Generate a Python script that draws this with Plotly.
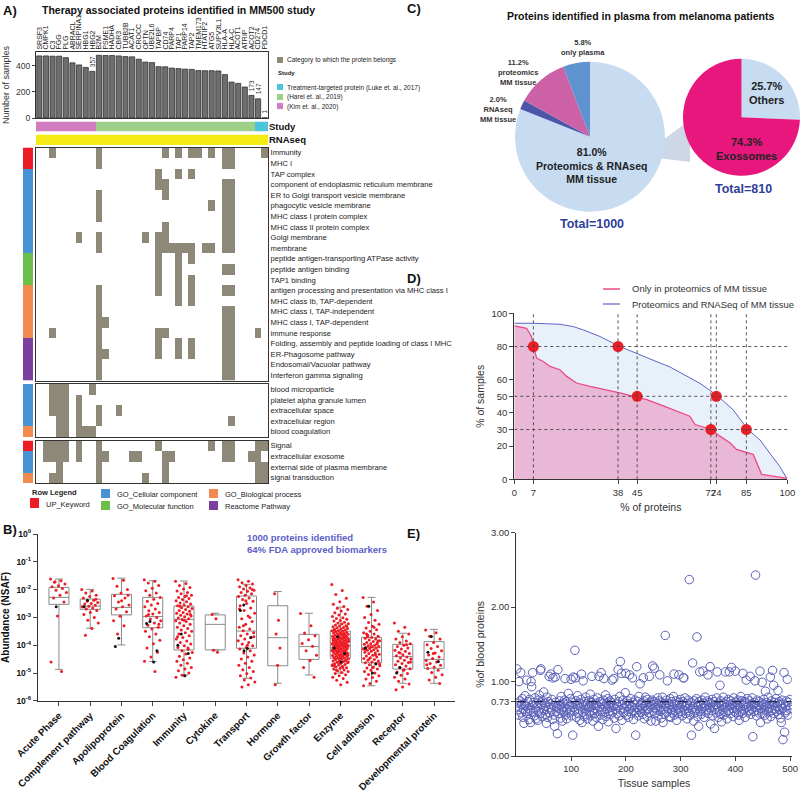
import plotly.graph_objects as go

W, H = 800, 792
FONT = "Arial, Liberation Sans, sans-serif"


def dx(a, b):
    return [a / W, b / W]


def dy(top, bottom):
    return [1 - bottom / H, 1 - top / H]


def px(x):
    return x / W


def py(y):
    return 1 - y / H


# ---------------- Panel A data ----------------
GENES = ["SRSF3", "CMPK1", "C3", "FGG", "PLG", "ABRACL", "SERPINA1", "HBG1", "HBG2",
         "B2M", "PSME1", "HADHA", "CBR3", "TUBB2B", "ACAT1", "CROCC", "OPTN", "UBE2L6",
         "TAPBP", "CD74", "PARP4", "TAP1", "PARP14", "TAP2", "TMEM173", "HTATIP2", "ATG5",
         "SUPV3L1", "HLA-A", "HLA-C", "ACOT1", "ATRIP", "ACOT2", "CD274", "PDCD1"]
SAMPLES = [475, 475, 473, 473, 462, 422, 406, 387, 357,
           480, 478, 478, 475, 470, 468, 450, 428, 424,
           393, 392, 382, 378, 374, 372, 363, 362, 362,
           360, 332, 275, 265, 237, 173, 147, 1]
LABELLED_BARS = ["HBG2", "ACOT2", "CD274", "PDCD1"]
# 0 = Kim 2020, 1 = Harel 2019, 2 = Luke 2017
GENE_STUDY = [0, 0, 0, 0, 0, 0, 0, 0, 0,
              1, 1, 1, 1, 1, 1, 1, 1, 1, 1, 1, 1, 1, 1, 1, 1, 1, 1, 1, 1, 1, 1, 1, 1,
              2, 2]
STUDY_COLORS = ["#d27cc1", "#9dd088", "#4cc4dc"]

BLOCK1_ROWS = ["Immunity", "MHC I", "TAP complex",
               "component of endoplasmic reticulum membrane",
               "ER to Golgi transport vesicle membrane", "phagocytic vesicle membrane",
               "MHC class I protein complex", "MHC class II protein complex",
               "Golgi membrane", "membrane", "peptide antigen-transporting ATPase activity",
               "peptide antigen binding", "TAP1 binding",
               "antigen processing and presentation via MHC class I",
               "MHC class Ib, TAP-dependent", "MHC class I, TAP-independent",
               "MHC class I, TAP-dependent", "immune response",
               "Folding, assembly and peptide loading of class I MHC",
               "ER-Phagosome pathway", "Endosomal/Vacuolar pathway",
               "Interferon gamma signaling"]
BLOCK1_HITS = [[2, 9, 19, 21, 23, 24, 26, 28, 29, 34],
               [9, 28, 29],
               [18, 21, 23],
               [18, 19, 28, 29],
               [9, 19, 28, 29],
               [9, 26, 28, 29],
               [9, 28, 29],
               [19, 28, 29],
               [6, 9, 16, 18, 19, 28, 29],
               [9, 18, 19, 20, 21, 22, 23, 25, 26, 28, 29],
               [18, 21, 23],
               [18, 21, 28, 29],
               [18, 21, 23],
               [9, 18, 21, 23, 28, 29],
               [9, 21, 23],
               [9, 28, 29],
               [9, 10, 28, 29],
               [2, 9, 18, 19, 28, 29, 33],
               [9, 18, 21, 23, 28, 29],
               [9, 10, 18, 21, 23, 28, 29],
               [9, 28, 29],
               [9, 28, 29]]
BLOCK1_CATS = [0, 0, 1, 1, 1, 1, 1, 1, 1, 1, 2, 2, 2, 3, 3, 3, 3, 3, 4, 4, 4, 4]

BLOCK2_ROWS = ["blood microparticle", "platelet alpha granule lumen", "extracellular space",
               "extracellular region", "blood coagulation"]
BLOCK2_HITS = [[2, 3, 4, 8],
               [2, 3, 4, 6],
               [2, 3, 4, 6, 9, 12],
               [3, 4, 6, 9, 29],
               [3, 4, 6, 7, 8]]
BLOCK2_CATS = [1, 1, 1, 1, 3]

BLOCK3_ROWS = ["Signal", "extracellular exosome", "external side of plasma membrane",
               "signal transduction"]
BLOCK3_HITS = [[1, 2, 3, 4, 6, 9, 18, 26, 28, 29, 33, 34],
               [1, 2, 3, 4, 6, 9, 10, 14, 15, 19, 20, 28, 29, 32, 33],
               [3, 9, 19, 33, 34],
               [2, 3, 9, 16, 19, 33, 34]]
BLOCK3_CATS = [0, 1, 1, 3]

ROW_LEGEND = ["UP_Keyword", "GO_Cellular component", "GO_Molecular function",
              "GO_Biological process", "Reactome Pathway"]
ROW_COLORS = ["#ee1c25", "#4793d3", "#6cbf4a", "#f38b50", "#7b3f9d"]
CELL_GRAY = "#8d8878"

# ---------------- Panel B data (log10 NSAF) ----------------
B_CATEGORIES = ["Acute Phase", "Complement pathway", "Apolipoprotein", "Blood Coagulation",
                "Immunity", "Cytokine", "Transport", "Hormone", "Growth factor", "Enzyme",
                "Cell adhesion", "Receptor", "Developmental protein"]
B_UPPER = [-1.62, -1.99, -1.59, -1.68, -1.69, -2.85, -1.81, -2.07, -2.85, -2.63, -2.28, -3.57, -3.43]
B_Q3 = [-1.92, -2.34, -2.17, -2.28, -2.59, -2.91, -2.23, -2.58, -3.61, -3.49, -3.72, -3.97, -3.87]
B_MEDIAN = [-2.28, -2.59, -2.64, -2.97, -3.07, -3.25, -3.49, -3.73, -4.05, -3.99, -4.09, -4.41, -4.51]
B_Q1 = [-2.53, -2.71, -2.91, -3.37, -4.17, -4.17, -4.11, -4.74, -4.51, -4.47, -4.63, -4.86, -4.83]
B_LOWER = [-4.87, -3.39, -3.99, -4.59, -5.07, -4.17, -5.19, -5.37, -5.07, -5.00, -5.46, -5.37, -5.37]

ACUTE = [-1.62, -1.68, -1.74, -1.8, -1.86, -1.9, -1.96, -2.02, -2.1, -2.2, -2.3, -2.45, -2.95, -4.6, -4.95, -1.72]
COMPLEMENT = [-2.0, -2.05, -2.12, -2.2, -2.25, -2.3, -2.38, -2.42, -2.46, -2.5, -2.52, -2.56, -2.6,
              -2.62, -2.66, -2.7, -2.75, -2.82, -2.9, -3.0, -3.1, -3.2, -3.4, -3.64, -2.35]
APOLIPO = [-1.6, -1.66, -1.88, -2.0, -2.12, -2.22, -2.3, -2.45, -2.55, -2.62, -2.7, -2.8, -2.96,
           -3.12, -3.3, -3.6, -2.2, -2.4]
BLOODCOAG = [-1.65, -1.7, -1.76, -1.85, -1.95, -2.04, -2.12, -2.2, -2.28, -2.35, -2.42, -2.5, -2.55,
             -2.62, -2.7, -2.76, -2.82, -2.88, -2.95, -3.0, -3.06, -3.12, -3.2, -3.28, -3.35, -3.42,
             -3.5, -3.6, -3.7, -3.82, -3.95, -4.1, -4.25, -4.42, -4.58, -4.95, -2.9, -3.25]
IMMUNITY = [-1.7, -1.78, -1.85, -1.92, -1.98, -2.05, -2.1, -2.15, -2.2, -2.25, -2.28, -2.32, -2.36,
            -2.4, -2.44, -2.48, -2.52, -2.55, -2.58, -2.62, -2.65, -2.68, -2.72, -2.75, -2.78, -2.82,
            -2.85, -2.88, -2.92, -2.95, -2.98, -3.02, -3.05, -3.08, -3.12, -3.15, -3.2, -3.25, -3.3,
            -3.35, -3.4, -3.45, -3.5, -3.55, -3.6, -3.66, -3.72, -3.78, -3.85, -3.9, -3.96, -4.02,
            -4.08, -4.15, -4.2, -4.26, -4.32, -4.4, -4.46, -4.52, -4.58, -4.65, -4.72, -4.8, -4.86,
            -4.92, -5.0, -5.08, -5.15, -2.22, -2.6, -2.9, -3.1, -3.7, -4.1]
CYTOKINE = [-2.9, -3.05, -4.18, -4.25]
TRANSPORT = [-1.65, -1.7, -1.75, -1.8, -1.85, -1.9, -1.94, -1.98, -2.02, -2.06, -2.1, -2.15, -2.2,
             -2.25, -2.3, -2.36, -2.42, -2.5, -2.58, -2.66, -2.75, -2.85, -2.95, -3.05, -3.15, -3.25,
             -3.35, -3.42, -3.48, -3.55, -3.6, -3.66, -3.72, -3.78, -3.84, -3.9, -3.96, -4.02, -4.08,
             -4.14, -4.2, -4.28, -4.35, -4.42, -4.5, -4.58, -4.65, -4.72, -4.8, -4.88, -4.95, -5.02,
             -5.1, -5.18, -5.25, -5.32, -5.42, -5.5, -2.0, -2.4, -2.7, -3.0, -3.3, -3.7, -4.0]
HORMONE = [-2.15, -3.1, -3.6, -4.1, -4.72, -5.42]
GROWTH = [-2.86, -3.3, -3.56, -3.66, -3.8, -3.94, -4.04, -4.2, -4.36, -4.55, -4.8, -5.15]
ENZYME = [-1.82, -2.03, -2.18, -2.31, -2.44, -2.53, -2.61, -2.67, -2.72, -2.77, -2.83, -2.88, -2.91,
          -2.97, -3.01, -3.04, -3.07, -3.11, -3.13, -3.17, -3.2, -3.23, -3.24, -3.27, -3.3, -3.31,
          -3.34, -3.36, -3.37, -3.4, -3.42, -3.43, -3.45, -3.47, -3.48, -3.5, -3.52, -3.53, -3.55,
          -3.56, -3.58, -3.59, -3.61, -3.62, -3.63, -3.65, -3.66, -3.68, -3.69, -3.7, -3.71, -3.73,
          -3.74, -3.75, -3.77, -3.78, -3.79, -3.8, -3.82, -3.83, -3.84, -3.85, -3.87, -3.88, -3.89,
          -3.9, -3.91, -3.93, -3.94, -3.95, -3.96, -3.97, -3.98, -4.0, -4.01, -4.02, -4.03, -4.04,
          -4.05, -4.07, -4.08, -4.09, -4.1, -4.11, -4.13, -4.14, -4.15, -4.16, -4.18, -4.19, -4.2,
          -4.21, -4.23, -4.24, -4.25, -4.27, -4.28, -4.3, -4.31, -4.32, -4.34, -4.35, -4.37, -4.38,
          -4.4, -4.41, -4.43, -4.44, -4.46, -4.47, -4.49, -4.5, -4.52, -4.54, -4.55, -4.57, -4.59,
          -4.61, -4.63, -4.65, -4.67, -4.69, -4.71, -4.73, -4.76, -4.78, -4.81, -4.83, -4.86, -4.89,
          -4.92, -4.95, -4.98, -5.02, -5.06, -5.1, -5.15, -5.2, -5.26, -5.33, -5.42, -3.46, -3.64,
          -3.72, -3.86, -3.92, -3.99, -4.06, -4.12, -4.17, -4.22, -4.29, -4.36, -4.42, -4.48, -4.56,
          -4.62, -4.7, -4.8, -4.9, -3.33, -3.57, -3.81, -4.0, -4.26, -4.6, -3.97, -4.12, -4.33,
          -4.45, -3.76, -3.6, -3.89, -4.05, -4.39, -4.75]
CELLADH = [-2.28, -2.45, -2.6, -2.75, -2.9, -3.0, -3.1, -3.18, -3.25, -3.32, -3.38, -3.44, -3.5,
           -3.55, -3.6, -3.64, -3.68, -3.72, -3.75, -3.78, -3.81, -3.84, -3.87, -3.9, -3.92, -3.95,
           -3.97, -4.0, -4.02, -4.04, -4.06, -4.08, -4.1, -4.12, -4.14, -4.16, -4.18, -4.2, -4.22,
           -4.25, -4.28, -4.3, -4.33, -4.36, -4.39, -4.42, -4.45, -4.48, -4.51, -4.54, -4.57, -4.6,
           -4.63, -4.66, -4.7, -4.74, -4.78, -4.82, -4.86, -4.9, -4.95, -5.0, -5.05, -5.1, -5.16,
           -5.22, -5.3, -5.38, -5.46, -3.35, -3.7, -3.85, -4.05, -4.15, -4.35, -4.5, -4.68, -4.8,
           -3.6, -3.95]
RECEPTOR = [-3.2, -3.35, -3.5, -3.6, -3.7, -3.78, -3.85, -3.9, -3.95, -4.0, -4.05, -4.1, -4.14,
            -4.18, -4.22, -4.26, -4.3, -4.34, -4.38, -4.42, -4.46, -4.5, -4.54, -4.58, -4.62, -4.66,
            -4.7, -4.75, -4.8, -4.85, -4.9, -4.96, -5.02, -5.08, -5.15, -5.22, -5.3, -5.4, -5.5,
            -5.6, -3.98, -4.28, -4.6, -4.88]
DEVEL = [-3.45, -3.55, -3.68, -3.78, -3.9, -3.98, -4.05, -4.12, -4.2, -4.28, -4.35, -4.42, -4.48,
         -4.55, -4.6, -4.66, -4.72, -4.78, -4.84, -4.9, -4.98, -5.06, -5.15, -5.25, -5.38, -4.3, -4.7]
B_RED = [ACUTE, COMPLEMENT, APOLIPO, BLOODCOAG, IMMUNITY, CYTOKINE, TRANSPORT, HORMONE,
         GROWTH, ENZYME, CELLADH, RECEPTOR, DEVEL]
B_BLACK = [[-2.62], [-2.38, -2.62], [-3.75, -4.05], [-3.15, -3.22, -4.2, -4.6],
           [-3.6, -4.0, -4.3, -5.1], [], [-2.55, -2.75, -3.72, -4.12, -4.2], [], [],
           [-3.7, -4.1, -4.3, -4.6], [-2.6, -4.1, -4.68, -5.0], [-4.8, -5.0], [-3.69, -4.25, -4.59]]

# ---------------- Panel C data ----------------
PIE1_LABELS = ["Proteomics & RNAseq MM tissue", "RNAseq MM tissue", "proteomics MM tissue", "only plasma"]
PIE1_VALUES = [81.0, 2.0, 11.2, 5.8]
PIE1_COLORS = ["#c7dcf1", "#4b56a8", "#cd61a7", "#5f93d0"]
PIE2_LABELS = ["Others", "Exossomes"]
PIE2_VALUES = [25.7, 74.3]
PIE2_COLORS = ["#c7dcf1", "#e8177d"]

# ---------------- Panel D data ----------------
D_PINK_X = [0, 4.5, 6.3, 7, 8.2, 10.6, 13.1, 16.7, 19.2, 22.8, 27.7, 33.8, 38.7, 43.6, 48.5, 53.4,
            59.5, 64.3, 66.2, 68, 72.3, 75.3, 79, 81.4, 85.1, 87.5, 90.6, 92.4, 99.8, 100]
D_PINK_Y = [92.4, 91, 86, 80, 73, 71, 68, 66, 62, 58, 56, 54, 52, 50, 48, 45,
            41, 38, 33, 32, 30, 26, 22, 18, 16, 15, 3, 2.6, 0.6, 0]
D_BLUE_X = [0, 7, 16.7, 21.6, 25.3, 31.4, 38.7, 44.8, 50.9, 57, 63.1, 68, 74.1, 80.2, 85.5, 90,
            93.6, 97.3, 100]
D_BLUE_Y = [94, 94, 93.4, 92, 90, 86, 80, 75.7, 71.7, 67.7, 62.2, 57.8, 50.8, 41.8, 30.1, 23.7,
            15.7, 7.6, 0]
D_SERIES = ["Only in proteomics of MM tissue", "Proteomics and RNASeq of MM tissue"]
D_DOT_X = [7, 38, 45, 74, 72, 85]
D_DOT_Y = [80, 80, 50, 50, 30, 30]
D_XTICKS = [0, 7, 38, 45, 72, 74, 85, 100]
D_YTICKS = [0, 20, 30, 40, 50, 60, 80, 100]

# ---------------- Panel E data ----------------
E_VALUES = [
    1.17, 0.62, 0.71, 0.55, 1.00, 0.66, 0.74, 1.12, 0.58, 0.69, 0.77, 0.52, 0.63, 0.44, 0.70, 0.81, 0.60, 0.67, 1.02, 0.57, 0.73, 0.64, 0.49, 0.76, 0.61,
    0.45, 1.00, 0.93, 0.68, 1.12, 0.59, 0.72, 0.54, 0.78, 0.63, 0.50, 0.70, 0.66, 0.48, 0.75, 0.60, 0.82, 0.57, 1.15, 1.17, 0.69, 0.53, 0.74, 0.64, 0.86,
    0.61, 0.71, 0.56, 0.67, 0.44, 0.79, 0.52, 0.73, 0.65, 1.07, 0.58, 0.70, 1.10, 0.62, 0.76, 0.49, 1.05, 0.68, 0.55, 0.40, 1.06, 0.72, 0.60, 0.66, 0.30,
    1.16, 0.64, 0.57, 0.74, 0.69, 0.51, 0.80, 0.62, 0.47, 0.71, 0.59, 0.66, 0.75, 1.04, 0.55, 0.73, 0.50, 0.63, 0.70, 0.84, 0.58, 0.67, 0.61, 0.77, 1.03,
    0.54, 0.72, 0.28, 1.06, 0.65, 0.60, 1.42, 1.05, 0.74, 0.52, 0.69, 0.81, 0.57, 0.63, 0.71, 0.48, 0.66, 0.76, 1.10, 0.45, 0.59, 1.01, 0.68, 0.53, 0.73,
    0.62, 0.79, 0.56, 0.70, 0.50, 0.65, 0.74, 0.59, 0.67, 0.83, 0.54, 0.72, 1.07, 0.61, 0.47, 0.69, 0.76, 0.57, 0.64, 0.71, 0.52, 0.68, 0.78, 0.60, 0.40,
    1.07, 0.66, 0.73, 0.55, 1.12, 0.62, 0.70, 0.49, 0.75, 1.04, 0.58, 0.67, 0.82, 0.53, 0.71, 0.63, 0.77, 0.46, 0.69, 0.60, 0.74, 0.56, 0.65, 0.72, 1.02,
    0.59, 0.68, 1.04, 0.51, 0.76, 0.63, 0.37, 0.70, 0.57, 0.66, 1.16, 0.73, 0.54, 0.80, 1.27, 0.62, 1.11, 0.48, 0.69, 0.75, 0.58, 0.64, 0.71, 0.85, 1.11,
    0.55, 0.67, 0.74, 0.60, 0.52, 0.70, 1.09, 0.63, 0.77, 0.57, 0.66, 1.05, 0.72, 0.49, 0.61, 0.69, 0.75, 0.28, 0.58, 1.20, 0.65, 0.73, 0.54, 0.80, 0.62,
    0.97, 0.68, 0.59, 0.71, 0.64, 0.56, 1.05, 0.74, 0.50, 0.67, 0.79, 0.61, 0.70, 0.53, 0.76, 0.63, 0.58, 1.07, 0.72, 0.66, 0.47, 0.69, 0.75, 1.21, 0.60,
    0.73, 1.18, 0.57, 0.65, 0.47, 0.71, 0.62, 0.78, 0.54, 0.68, 0.74, 1.09, 0.60, 0.66, 0.51, 0.72, 0.79, 0.45, 0.63, 0.70, 0.56, 1.62, 0.67, 0.75, 0.59,
    1.01, 0.64, 0.71, 0.53, 0.69, 0.77, 0.52, 0.62, 0.73, 0.58, 0.66, 0.80, 1.10, 0.55, 0.70, 0.61, 0.74, 0.48, 0.68, 0.63, 0.57, 1.09, 0.72, 0.65, 0.76,
    0.60, 0.69, 0.54, 0.73, 1.05, 1.05, 0.62, 0.78, 0.57, 0.67, 0.71, 0.50, 0.64, 0.75, 0.59, 2.37, 0.68, 0.55, 0.72, 0.28, 0.63, 1.25, 0.66, 0.47, 0.74,
    0.58, 0.70, 0.61, 0.77, 1.60, 0.53, 0.67, 0.40, 0.73, 1.13, 0.60, 0.69, 0.56, 0.75, 0.64, 1.14, 0.71, 0.52, 0.66, 0.79, 0.59, 0.68, 0.62, 0.74, 1.09,
    0.57, 0.72, 0.65, 1.20, 0.43, 0.70, 0.61, 0.76, 0.54, 0.67, 0.73, 0.37, 0.63, 0.69, 0.58, 0.78, 1.13, 0.66, 0.52, 0.71, 0.60, 0.95, 0.74, 0.56, 0.46,
    0.68, 0.62, 0.79, 0.55, 0.71, 0.65, 1.13, 0.59, 0.73, 0.50, 0.67, 0.76, 0.61, 1.13, 0.69, 0.57, 0.74, 1.19, 0.64, 0.70, 0.53, 0.78, 0.60, 0.66, 1.14,
    0.72, 0.58, 0.69, 0.63, 0.75, 0.55, 0.48, 0.71, 0.66, 0.80, 0.60, 0.74, 0.57, 1.11, 0.68, 0.62, 0.73, 0.52, 0.70, 1.02, 0.65, 0.77, 0.59, 0.67, 0.61,
    0.74, 1.07, 0.56, 0.70, 0.63, 0.78, 0.26, 0.69, 0.60, 0.72, 1.01, 2.43, 0.66, 0.54, 0.75, 0.61, 0.68, 0.58, 0.73, 1.14, 0.45, 0.64, 0.71, 0.99, 0.57,
    0.69, 0.76, 0.62, 0.55, 0.87, 0.67, 0.72, 0.50, 0.64, 0.79, 0.59, 0.70, 0.66, 1.06, 0.53, 0.74, 0.61, 1.15, 0.68, 0.95, 0.57, 0.72, 0.63, 0.77, 0.60,
    0.66, 0.71, 0.88, 0.56, 0.73, 0.62, 0.69, 0.51, 0.45, 0.75, 0.64, 0.22, 0.70, 1.12, 0.32, 0.58, 0.67, 0.74, 0.61, 1.03, 0.55, 0.72, 0.68, 0.63, 0.76,
]
E_MEAN = 0.73
E_YTICKS = [0, 0.73, 1, 2, 3]
E_YTEXT = ["0.00", "0.73", "1.00", "2.00", "3.00"]
E_XTICKS = [100, 200, 300, 400, 500]

# ====================================================================
fig = go.Figure()
layout_axes = {}
shapes = []
annotations = []


def ann(text, x, y, size=9, bold=False, color="#222", xanchor="left", yanchor="middle",
        align="left", textangle=0):
    t = "<b>%s</b>" % text if bold else text
    annotations.append(dict(text=t, x=px(x), y=py(y), xref="paper", yref="paper",
                            showarrow=False, xanchor=xanchor, yanchor=yanchor, align=align,
                            textangle=textangle,
                            font=dict(size=size, color=color, family=FONT)))


def square(x0, y0, x1, y1, color):
    shapes.append(dict(type="rect", xref="paper", yref="paper", x0=px(x0), x1=px(x1),
                       y0=py(y1), y1=py(y0), fillcolor=color, line=dict(width=0)))


def hline(x0, x1, y, color, width):
    shapes.append(dict(type="line", xref="paper", yref="paper", x0=px(x0), x1=px(x1),
                       y0=py(y), y1=py(y), line=dict(color=color, width=width)))


NG = len(GENES)
GX = [36, 268]

# --- A: bar chart
fig.add_trace(go.Bar(x=list(range(NG)), y=SAMPLES, xaxis="x", yaxis="y",
                     marker=dict(color="#6e6e6e", line=dict(color="#222", width=0.7)),
                     width=0.78, showlegend=False, hoverinfo="skip"))
for g in LABELLED_BARS:
    i = GENES.index(g)
    annotations.append(dict(text=str(SAMPLES[i]), x=i, y=SAMPLES[i], xref="x", yref="y",
                            showarrow=False, textangle=-90, xanchor="center", yanchor="bottom",
                            yshift=2, font=dict(size=6.5, color="#333", family=FONT)))
layout_axes["xaxis"] = dict(domain=dx(*GX), anchor="y", range=[-0.5, NG - 0.5], side="top",
                            tickvals=list(range(NG)), ticktext=GENES, tickangle=-90,
                            tickfont=dict(size=7, color="#222"), ticks="", showline=True,
                            mirror=True, linecolor="#333", linewidth=1, showgrid=False,
                            zeroline=False)
layout_axes["yaxis"] = dict(domain=dy(52, 118), anchor="x", range=[0, 505],
                            tickvals=[0, 200, 400], ticks="outside", ticklen=3,
                            tickfont=dict(size=8.5, color="#333"), showline=True, mirror=True,
                            linecolor="#333", linewidth=1, showgrid=False, zeroline=False,
                            title=dict(text="Number of samples", font=dict(size=9, color="#333"),
                                       standoff=4))

# --- A: study strip
fig.add_trace(go.Heatmap(z=[GENE_STUDY], x=list(range(NG)), y=[0], xaxis="x2", yaxis="y2",
                         zmin=0, zmax=2, showscale=False, hoverinfo="skip",
                         colorscale=[[0, STUDY_COLORS[0]], [0.5, STUDY_COLORS[1]], [1, STUDY_COLORS[2]]]))
layout_axes["xaxis2"] = dict(domain=dx(*GX), anchor="y2", range=[-0.5, NG - 0.5], visible=False)
layout_axes["yaxis2"] = dict(domain=dy(121.5, 131.5), anchor="x2", range=[-0.5, 0.5], side="right",
                             tickvals=[0], ticktext=["<b>Study</b>"], ticks="", showgrid=False,
                             zeroline=False, tickfont=dict(size=9.5, color="#111"))

# --- A: RNAseq strip
fig.add_trace(go.Heatmap(z=[[1] * NG], x=list(range(NG)), y=[0], xaxis="x3", yaxis="y3",
                         zmin=0, zmax=1, showscale=False, hoverinfo="skip",
                         colorscale=[[0, "#f4ea16"], [1, "#f4ea16"]]))
layout_axes["xaxis3"] = dict(domain=dx(*GX), anchor="y3", range=[-0.5, NG - 0.5], visible=False)
layout_axes["yaxis3"] = dict(domain=dy(134.5, 145), anchor="x3", range=[-0.5, 0.5], side="right",
                             tickvals=[0], ticktext=["<b>RNAseq</b>"], ticks="", showgrid=False,
                             zeroline=False, tickfont=dict(size=9.5, color="#111"))

# --- A: heatmap blocks
blocks = [(BLOCK1_ROWS, BLOCK1_HITS, BLOCK1_CATS, 147.5, 380.5, 4, 7),
          (BLOCK2_ROWS, BLOCK2_HITS, BLOCK2_CATS, 384, 437, 5, 8),
          (BLOCK3_ROWS, BLOCK3_HITS, BLOCK3_CATS, 440.5, 483, 6, 9)]
rc_scale = [[0, ROW_COLORS[0]], [0.25, ROW_COLORS[1]], [0.5, ROW_COLORS[2]],
            [0.75, ROW_COLORS[3]], [1, ROW_COLORS[4]]]
for rows, hits, cats, top, bot, ai, ci in blocks:
    n = len(rows)
    z = [[1 if c in h else 0 for c in range(NG)] for h in hits]
    fig.add_trace(go.Heatmap(z=z, x=list(range(NG)), y=list(range(n)), xaxis="x%d" % ai,
                             yaxis="y%d" % ai, zmin=0, zmax=1, showscale=False, hoverinfo="skip",
                             colorscale=[[0, "#ffffff"], [1, CELL_GRAY]]))
    layout_axes["xaxis%d" % ai] = dict(domain=dx(*GX), anchor="y%d" % ai, range=[-0.5, NG - 0.5],
                                       showticklabels=False, ticks="", showline=True, mirror=True,
                                       linecolor="#333", linewidth=1.2, showgrid=False, zeroline=False)
    layout_axes["yaxis%d" % ai] = dict(domain=dy(top, bot), anchor="x%d" % ai,
                                       range=[n - 0.5, -0.5], side="right", tickvals=list(range(n)),
                                       ticktext=rows, ticks="", showline=True, mirror=True,
                                       linecolor="#333", linewidth=1.2, showgrid=False,
                                       zeroline=False, tickfont=dict(size=7.6, color="#1a1a1a"))
    fig.add_trace(go.Heatmap(z=[[c] for c in cats], x=[0], y=list(range(n)), xaxis="x%d" % ci,
                             yaxis="y%d" % ci, zmin=0, zmax=4, showscale=False, hoverinfo="skip",
                             colorscale=rc_scale))
    layout_axes["xaxis%d" % ci] = dict(domain=dx(23, 33), anchor="y%d" % ci, range=[-0.5, 0.5],
                                       visible=False)
    layout_axes["yaxis%d" % ci] = dict(domain=dy(top, bot), anchor="x%d" % ci,
                                       range=[n - 0.5, -0.5], visible=False)

# --- A: legends
square(277, 57, 283, 63, CELL_GRAY)
ann("Category to which the protein belongs", 285, 60.5, size=6.5)
ann("Study", 276, 72.5, size=6, bold=True)
square(277, 84, 283, 90, STUDY_COLORS[2])
ann("Treatment-targeted protein (Luke et. al., 2017)", 285, 87.5, size=6.5)
square(277, 94, 283, 100, STUDY_COLORS[1])
ann("(Harel et. al., 2019)", 285, 97, size=6.5)
square(277, 103, 283, 109, STUDY_COLORS[0])
ann("(Kim et. al., 2020)", 285, 106.5, size=6.5)

ann("Row Legend", 30, 492, size=7.5, bold=True)
square(30, 498, 39, 508, ROW_COLORS[0])
ann(ROW_LEGEND[0], 44, 504, size=7.5)
square(101, 489, 110, 498, ROW_COLORS[1])
ann(ROW_LEGEND[1], 115, 494.5, size=7.5)
square(101, 501, 110, 510, ROW_COLORS[2])
ann(ROW_LEGEND[2], 115, 506.5, size=7.5)
square(209, 489, 218, 498, ROW_COLORS[3])
ann(ROW_LEGEND[3], 223, 494.5, size=7.5)
square(209, 501, 218, 510, ROW_COLORS[4])
ann(ROW_LEGEND[4], 223, 506.5, size=7.5)

ann("A)", 1, 10, size=13, bold=True, color="#111")
ann("Therapy associated proteins identified in MM500 study", 40, 10, size=10.5, bold=True, color="#111")

# --- B: box plots
NB = len(B_CATEGORIES)
for i in range(NB):
    fig.add_trace(go.Box(x=[i], q1=[10 ** B_Q1[i]], median=[10 ** B_MEDIAN[i]], q3=[10 ** B_Q3[i]],
                         lowerfence=[10 ** B_LOWER[i]], upperfence=[10 ** B_UPPER[i]],
                         xaxis="x10", yaxis="y10", width=0.64, whiskerwidth=0.4,
                         fillcolor="rgba(255,255,255,0)", line=dict(color="#8a8a8a", width=1),
                         boxpoints=False, showlegend=False, hoverinfo="skip"))
rx, ry, bx, by = [], [], [], []
for i, vals in enumerate(B_RED):
    sp = 0.27 if len(vals) > 10 else 0.1
    for j, v in enumerate(vals):
        rx.append(i + sp * (((j * 0.6180339887) % 1.0) * 2 - 1))
        ry.append(10 ** v)
for i, vals in enumerate(B_BLACK):
    for j, v in enumerate(vals):
        bx.append(i + 0.22 * (((j * 0.7548776662 + 0.3) % 1.0) * 2 - 1))
        by.append(10 ** v)
fig.add_trace(go.Scatter(x=rx, y=ry, mode="markers", xaxis="x10", yaxis="y10",
                         marker=dict(color="#ee1c25", size=3), showlegend=False, hoverinfo="skip"))
fig.add_trace(go.Scatter(x=bx, y=by, mode="markers", xaxis="x10", yaxis="y10",
                         marker=dict(color="#111", size=3), showlegend=False, hoverinfo="skip"))
layout_axes["xaxis10"] = dict(domain=dx(38, 455), anchor="y10", range=[-0.67, NB - 0.33],
                              tickvals=list(range(NB)),
                              ticktext=["<b>%s</b>" % c for c in B_CATEGORIES], tickangle=-45,
                              tickfont=dict(size=9.8, color="#111"), ticks="outside", ticklen=4,
                              showline=True, linecolor="#333", linewidth=1.3, showgrid=False,
                              zeroline=False)
layout_axes["yaxis10"] = dict(domain=dy(534, 700.8), anchor="x10", type="log", range=[-6, 0],
                              tickvals=[10 ** k for k in range(0, -7, -1)],
                              ticktext=["<b>10<sup>%d</sup></b>" % k for k in range(0, -7, -1)],
                              ticks="outside", ticklen=4, tickfont=dict(size=8.5, color="#111"),
                              showline=True, linecolor="#333", linewidth=1.3, showgrid=False,
                              zeroline=False,
                              title=dict(text="<b>Abundance (NSAF)</b>", standoff=4,
                                         font=dict(size=10, color="#111")))
ann("B)", 1, 529, size=13, bold=True, color="#111")
ann("1000 proteins identified<br>64% FDA approved biomarkers", 245, 543, size=9.5, bold=True,
    color="#5b5fc7")

# --- C: pies
fig.add_trace(go.Pie(values=PIE1_VALUES, labels=PIE1_LABELS, sort=False, direction="clockwise",
                     rotation=0, marker=dict(colors=PIE1_COLORS, line=dict(width=0)),
                     textinfo="none", hoverinfo="skip", showlegend=False,
                     domain=dict(x=dx(515, 665), y=dy(61.7, 211.7))))
fig.add_trace(go.Pie(values=PIE2_VALUES, labels=PIE2_LABELS, sort=False, direction="clockwise",
                     rotation=0, marker=dict(colors=PIE2_COLORS, line=dict(width=0)),
                     textinfo="none", hoverinfo="skip", showlegend=False,
                     domain=dict(x=dx(683, 800), y=dy(58.5, 176))))
shapes.append(dict(type="path", xref="paper", yref="paper", layer="below",
                   path="M %f,%f L %f,%f L %f,%f Z" % (px(641), py(156), px(690), py(120),
                                                        px(690), py(162)),
                   fillcolor="rgba(190,202,224,0.75)", line=dict(width=0)))
ann("C)", 405, 9, size=13, bold=True, color="#111")
ann("Proteins identified in plasma from melanoma patients", 640, 16, size=10.5, bold=True,
    color="#111", xanchor="center")
ann("5.8%<br>only plasma", 583, 48, size=7.5, bold=True, color="#333", xanchor="center", align="center")
ann("11.2%<br>proteomics<br>MM tissue", 518, 73, size=7.5, bold=True, color="#333",
    xanchor="center", align="center")
ann("2.0%<br>RNAseq<br>MM tissue", 498, 109, size=7.5, bold=True, color="#333",
    xanchor="center", align="center")
ann("81.0%<br>Proteomics & RNAseq<br>MM tissue", 591, 166, size=10.5, bold=True, color="#222",
    xanchor="center", align="center")
ann("25.7%<br>Others", 766, 93, size=11, bold=True, color="#222", xanchor="center", align="center")
ann("74.3%<br>Exossomes", 746, 149, size=11, bold=True, color="#222", xanchor="center", align="center")
ann("Total=1000", 592, 224, size=12.5, bold=True, color="#2f3f99", xanchor="center")
ann("Total=810", 743, 189, size=12.5, bold=True, color="#2f3f99", xanchor="center")

# --- D: curves
D_PINK = "#ec4a86"
D_BLUE = "#6064c2"
fig.add_trace(go.Scatter(x=D_BLUE_X, y=D_BLUE_Y, mode="lines", fill="tozeroy",
                         fillcolor="#e8f0fa", line=dict(color=D_BLUE, width=1),
                         xaxis="x11", yaxis="y11", showlegend=False, hoverinfo="skip"))
fig.add_trace(go.Scatter(x=D_PINK_X, y=D_PINK_Y, mode="lines", fill="tozeroy",
                         fillcolor="#e9b8d6", line=dict(color=D_PINK, width=1.3),
                         xaxis="x11", yaxis="y11", showlegend=False, hoverinfo="skip"))
for xv in D_XTICKS[1:-1]:
    shapes.append(dict(type="line", xref="x11", yref="y11", x0=xv, x1=xv, y0=0, y1=100,
                       line=dict(color="#444", width=0.9, dash="dot")))
for yv in sorted(set(D_DOT_Y)):
    shapes.append(dict(type="line", xref="x11", yref="y11", x0=0, x1=100, y0=yv, y1=yv,
                       line=dict(color="#444", width=0.9, dash="dot")))
fig.add_trace(go.Scatter(x=D_DOT_X, y=D_DOT_Y, mode="markers", xaxis="x11", yaxis="y11",
                         marker=dict(color="#ee1c25", size=11), showlegend=False, hoverinfo="skip"))
# legend glyphs for D
hline(603, 620, 289, D_PINK, 1.5)
ann(D_SERIES[0], 630, 289, size=9.5, color="#333")
hline(603, 620, 304, D_BLUE, 1.2)
ann(D_SERIES[1], 630, 304, size=9.5, color="#333")
layout_axes["xaxis11"] = dict(domain=dx(514.3, 787.3), anchor="y11", range=[0, 100],
                              tickvals=D_XTICKS, ticks="outside", ticklen=4, tickangle=0,
                              tickfont=dict(size=9.5, color="#333"), showline=True,
                              linecolor="#333", linewidth=1, showgrid=False, zeroline=False,
                              title=dict(text="% of proteins", standoff=6,
                                         font=dict(size=10.5, color="#333")))
layout_axes["yaxis11"] = dict(domain=dy(313.3, 479.3), anchor="x11", range=[0, 100],
                              tickvals=D_YTICKS, ticks="outside", ticklen=4,
                              tickfont=dict(size=9.5, color="#333"), showline=True,
                              linecolor="#333", linewidth=1, showgrid=False, zeroline=False,
                              title=dict(text="% of samples", standoff=4,
                                         font=dict(size=10.5, color="#333")))
ann("D)", 405, 278, size=13, bold=True, color="#111")

# --- E: scatter
fig.add_trace(go.Scatter(x=list(range(1, len(E_VALUES) + 1)), y=E_VALUES, mode="markers",
                         xaxis="x12", yaxis="y12",
                         marker=dict(symbol="circle-open", size=8.5, color="#5a60b8",
                                     line=dict(width=1)),
                         showlegend=False, hoverinfo="skip"))
shapes.append(dict(type="line", xref="x12", yref="y12", x0=0, x1=503, y0=E_MEAN, y1=E_MEAN,
                   line=dict(color="#222244", width=1.2, dash="dash")))
layout_axes["xaxis12"] = dict(domain=dx(516.3, 791.7), anchor="y12", range=[0, 503],
                              tickvals=E_XTICKS, ticks="outside", ticklen=4, tickangle=0,
                              tickfont=dict(size=9.5, color="#333"), showline=True,
                              linecolor="#333", linewidth=1, showgrid=False, zeroline=False,
                              title=dict(text="Tissue samples", standoff=6,
                                         font=dict(size=10.5, color="#333")))
layout_axes["yaxis12"] = dict(domain=dy(532.7, 756), anchor="x12", range=[0, 3],
                              tickvals=E_YTICKS, ticktext=E_YTEXT, ticks="outside", ticklen=4,
                              tickfont=dict(size=9.5, color="#333"), showline=True,
                              linecolor="#333", linewidth=1, showgrid=False, zeroline=False,
                              title=dict(text="%of blood proteins", standoff=4,
                                         font=dict(size=10.5, color="#333")))
ann("E)", 405, 533, size=13, bold=True, color="#111")

for k, v in layout_axes.items():
    v["automargin"] = False

fig.update_layout(
    width=W, height=H, margin=dict(l=0, r=0, t=0, b=0, autoexpand=False),
    paper_bgcolor="white", plot_bgcolor="white",
    font=dict(family=FONT, color="#222"),
    showlegend=False,
    shapes=shapes, annotations=annotations,
    **layout_axes,
)

fig.write_html("out.html", config={"displayModeBar": False},
               post_script="document.body.style.margin='0';document.body.style.overflow='hidden';")
